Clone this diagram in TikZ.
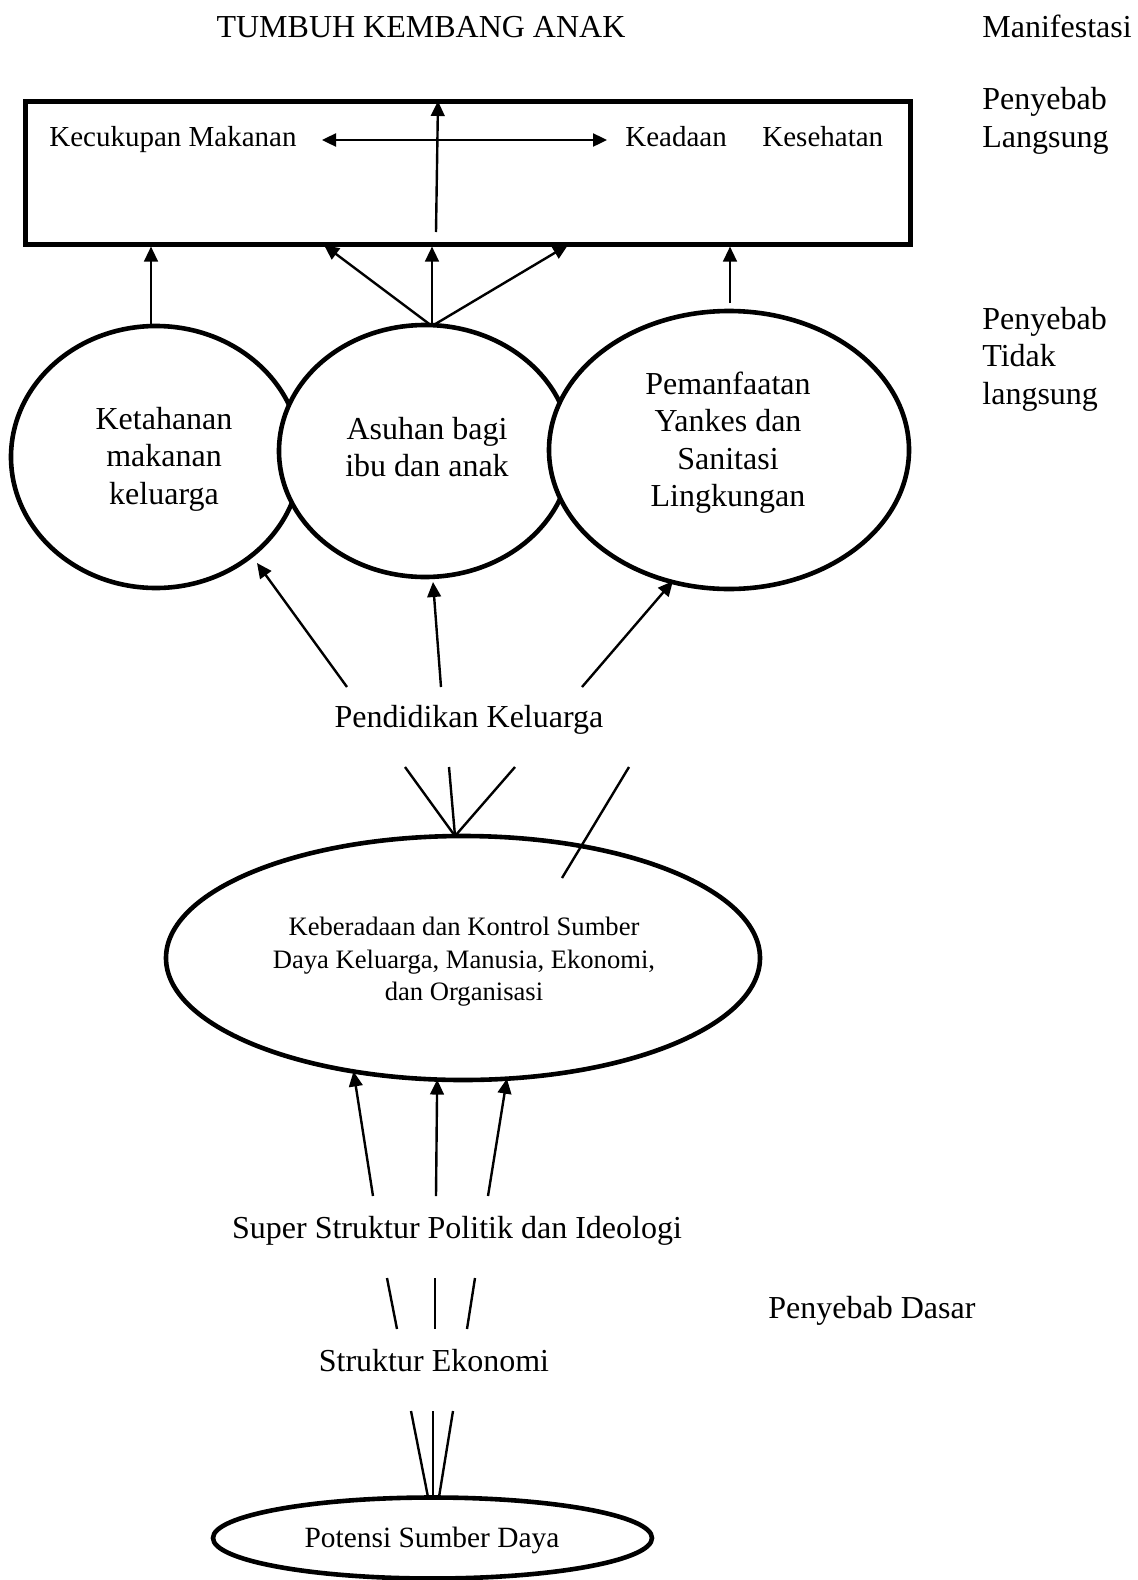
\documentclass[tikz,border=0pt]{standalone}
\usepackage{fontspec}
\setmainfont{Liberation Serif}
\usetikzlibrary{shapes.geometric,arrows.meta}
\begin{document}
\begin{tikzpicture}[x=0.5pt,y=-0.5pt,
 txt/.style={font=\fontsize{16}{18.7}\selectfont, align=center, inner sep=0},
 lbl/.style={font=\fontsize{16}{18.7}\selectfont, align=left, inner sep=0},
 small/.style={font=\fontsize{14.5}{17}\selectfont, inner sep=0},
 tiny/.style={font=\fontsize{13.3}{16.3}\selectfont, align=center, inner sep=0},
 ell/.style={ellipse, draw, line width=2.3pt, fill=white, inner sep=0, outer sep=0},
 arr/.style={line width=1.2pt, -{Triangle[length=7.5pt,width=6.8pt]}},
 darr/.style={line width=1.2pt, {Triangle[length=7pt,width=6.5pt]}-{Triangle[length=7pt,width=6.5pt]}},
 ln/.style={line width=1.2pt},
]
\useasboundingbox (0,0) rectangle (1138,1580);

% ---- top
\node[txt] (title) at (421,27) {TUMBUH KEMBANG ANAK};
\node[lbl, anchor=base west] (man) at (982,37) {Manifestasi};
\node[lbl, anchor=west] (pl) at (982,121) {Penyebab\\Langsung};
\node[lbl, anchor=west] (ptl) at (982,359) {Penyebab\\Tidak\\langsung};

\node[draw, line width=2.5pt, minimum width=442.5pt, minimum height=71.5pt, inner sep=0] (box) at (467.5,172.5) {};
\node[small, anchor=base west] (kec) at (49,146) {Kecukupan Makanan};
\node[small, anchor=base west] (kea) at (625,146) {Keadaan};
\node[small, anchor=base west] (kes) at (762,146) {Kesehatan};
\coordinate (dl) at (322,140);
\coordinate (dr) at (607,140);
\draw[darr] (dl) -- (dr);
\coordinate (vin) at (436,232);
\coordinate (vtop) at (438,101);
\draw[arr] (vin) -- (vtop);

% ---- ellipses
\node[ell, minimum width=145pt, minimum height=131pt] (le) at (156,457) {};
\node[ell, minimum width=146pt, minimum height=126pt] (me) at (425,451) {};
\node[ell, minimum width=180pt, minimum height=139pt] (re) at (729,450) {};
\node[txt] (lt) at (164,459) {Ketahanan\\makanan\\keluarga};
\node[txt] (mt) at (427,447) {Asuhan bagi\\ibu dan anak};
\node[txt] (rt) at (728,442.5) {Pemanfaatan\\Yankes dan\\Sanitasi\\Lingkungan};

\coordinate (lb) at (151,327);
\draw[arr] (lb) -- (lb |- box.south);
\coordinate (mtop) at (432,326);
\coordinate (mtl) at (324,245);
\coordinate (mtr) at (568,245);
\draw[arr] (mtop) -- (mtl);
\draw[arr] (mtop) -- (mtop |- box.south);
\draw[arr] (mtop) -- (mtr);
\coordinate (rb) at (730,303);
\draw[arr] (rb) -- (rb |- box.south);

% ---- Pendidikan
\node[txt] (pend) at (469,720) {Pendidikan Keluarga};
\coordinate (p1) at (347,687);
\coordinate (p2) at (441,687);
\coordinate (p3) at (582,687);
\coordinate (h1) at (257,563);
\coordinate (h2) at (433,582);
\coordinate (h3) at (673,581);
\draw[arr] (p1) -- (h1);
\draw[arr] (p2) -- (h2);
\draw[arr] (p3) -- (h3);

% ---- Keberadaan
\node[ell, minimum width=297pt, minimum height=122pt] (keb) at (463,958) {};
\node[tiny] (kebt) at (464,962) {Keberadaan dan Kontrol Sumber\\Daya Keluarga, Manusia, Ekonomi,\\dan Organisasi};
\coordinate (q1) at (405,767);
\coordinate (q2) at (449,767);
\coordinate (q3) at (515,767);
\coordinate (q4) at (629,767);
\coordinate (qm) at (455,836);
\coordinate (q4e) at (562,878);
\draw[ln] (q1) -- (qm);
\draw[ln] (q2) -- (qm);
\draw[ln] (q3) -- (qm);
\draw[ln] (q4) -- (q4e);

% ---- Super Struktur
\node[txt] (sup) at (457,1231) {Super Struktur Politik dan Ideologi};
\coordinate (s1) at (373,1196);
\coordinate (s2) at (436,1196);
\coordinate (s3) at (488,1196);
\draw[arr] (s1) -- (keb.226.3);
\draw[arr] (s2) -- (keb.258);
\draw[arr] (s3) -- (keb.290);

\node[txt, anchor=west] (pd) at (768,1311) {Penyebab Dasar};

% ---- Struktur Ekonomi
\node[txt] (se) at (434,1361) {Struktur Ekonomi};
\coordinate (u1) at (387,1278); \coordinate (u1e) at (397,1329);
\coordinate (u2) at (435,1278); \coordinate (u2e) at (435,1329);
\coordinate (u3) at (475,1278); \coordinate (u3e) at (467,1329);
\draw[ln] (u1) -- (u1e);
\draw[ln] (u2) -- (u2e);
\draw[ln] (u3) -- (u3e);

% ---- Potensi
\node[ell, minimum width=219.5pt, minimum height=40.5pt] (pot) at (432.5,1538) {};
\node[font=\fontsize{14.7}{17}\selectfont, inner sep=0] (pott) at (432,1540) {Potensi Sumber Daya};
\coordinate (e1) at (411,1411); \coordinate (e1e) at (428,1497);
\coordinate (e2) at (433,1411); \coordinate (e2e) at (433,1497);
\coordinate (e3) at (453,1411); \coordinate (e3e) at (439,1497);
\draw[ln] (e1) -- (e1e);
\draw[ln] (e2) -- (e2e);
\draw[ln] (e3) -- (e3e);
\end{tikzpicture}
\end{document}
